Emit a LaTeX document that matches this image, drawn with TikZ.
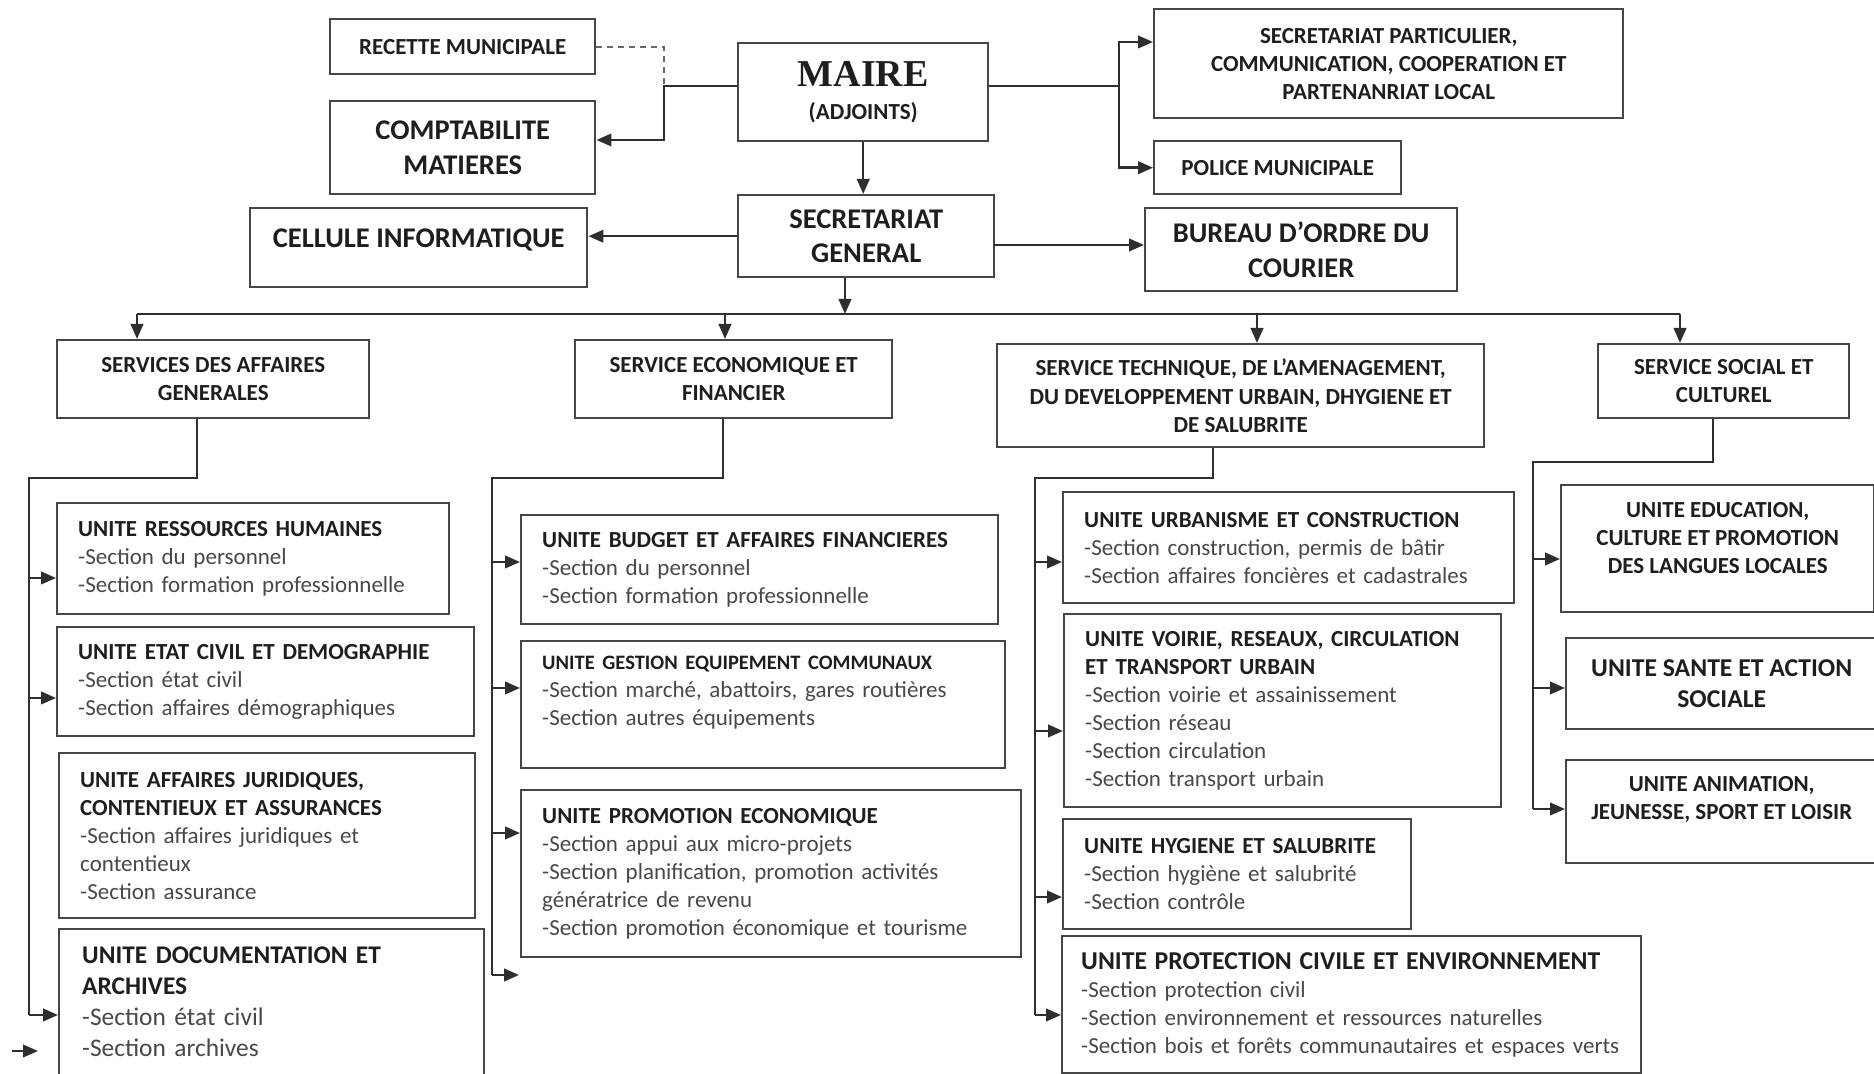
\documentclass[tikz,border=0pt]{standalone}
\usepackage{fontspec}
\setmainfont{Carlito}
\newfontfamily\mairefont{Liberation Serif}
\usetikzlibrary{arrows.meta,positioning}
\definecolor{ink}{RGB}{30,30,30}
\definecolor{soft}{RGB}{72,72,72}
\definecolor{edge}{RGB}{70,70,70}
\newcommand{\sect}[1]{{\color{soft}#1}}
\newcommand{\fs}[1]{\fontsize{#1}{1.22\dimexpr#1\relax}\selectfont}

\begin{document}
\begin{tikzpicture}[x=0.1mm, y=-0.1mm,
  box/.style={draw=edge, line width=0.7pt, inner sep=0pt, align=center, anchor=north west, text=ink, font=\fs{2.3mm}\bfseries},
  bigbox/.style={box, font=\fs{2.85mm}\bfseries},
  unit/.style={draw=edge, line width=0.7pt, inner xsep=2.1mm, inner ysep=0pt, align=left, anchor=north west, text=ink, font=\fs{2.3mm}},
  wire/.style={draw=black!82, line width=0.7pt},
  arr/.style={wire, -{Triangle[length=1.5mm, width=1.25mm]}},
  dashline/.style={draw=black!60, line width=0.6pt, dash pattern=on 0.6mm off 0.5mm}]
\useasboundingbox (0,0) rectangle (1874,1074);
\node[box, minimum width=26.5mm, minimum height=5.5mm] (recette) at (329,18) {RECETTE MUNICIPALE};
\node[bigbox, minimum width=26.5mm, minimum height=9.3mm] (compta) at (329,100) {COMPTABILITE\\MATIERES};
\node[box, minimum width=25mm, minimum height=9.8mm] (maire) at (737,42) {{\mairefont\bfseries\fontsize{3.8mm}{4mm}\selectfont MAIRE}\\[0.4mm](ADJOINTS)};
\node[box, minimum width=46.9mm, minimum height=10.9mm] (secpart) at (1153,8) {SECRETARIAT PARTICULIER,\\COMMUNICATION, COOPERATION ET\\PARTENANRIAT LOCAL};
\node[box, minimum width=24.7mm, minimum height=5.3mm] (police) at (1153,140) {POLICE MUNICIPALE};
\node[bigbox, minimum width=25.6mm, minimum height=8.2mm] (sg) at (737,194) {SECRETARIAT\\GENERAL};
\node[bigbox, minimum width=33.7mm, minimum height=7.9mm, text depth=1.9mm] (cellule) at (249,207) {CELLULE INFORMATIQUE};
\node[bigbox, minimum width=31.2mm, minimum height=8.3mm] (bureau) at (1144,207) {BUREAU D’ORDRE DU\\COURIER};

\node[box, minimum width=31.2mm, minimum height=7.8mm] (sag) at (56,339) {SERVICES DES AFFAIRES\\GENERALES};
\node[box, minimum width=31.7mm, minimum height=7.8mm] (sef) at (574,339) {SERVICE ECONOMIQUE ET\\FINANCIER};
\node[box, minimum width=48.7mm, minimum height=10.3mm] (ste) at (996,343) {SERVICE TECHNIQUE, DE L’AMENAGEMENT,\\DU DEVELOPPEMENT URBAIN, DHYGIENE ET\\DE SALUBRITE};
\node[box, minimum width=25.1mm, minimum height=7.4mm] (ssc) at (1597,343) {SERVICE SOCIAL ET\\CULTUREL};

\node[unit, minimum width=39.2mm, minimum height=11.1mm, text width=35mm] (urh) at (56,502) {\textbf{UNITE RESSOURCES HUMAINES}\\\sect{-Section du personnel}\\\sect{-Section formation professionnelle}};
\node[unit, minimum width=41.7mm, minimum height=10.9mm, text width=37.5mm] (uecd) at (56,626) {\textbf{UNITE ETAT CIVIL ET DEMOGRAPHIE}\\\sect{-Section état civil}\\\sect{-Section affaires démographiques}};
\node[unit, minimum width=41.6mm, minimum height=16.5mm, text width=37.4mm] (uajc) at (58,752) {\textbf{UNITE AFFAIRES JURIDIQUES,}\\\textbf{CONTENTIEUX ET ASSURANCES}\\\sect{-Section affaires juridiques et}\\\sect{contentieux}\\\sect{-Section assurance}};
\node[unit, minimum width=42.5mm, minimum height=15.7mm, text width=37.9mm, inner xsep=2.3mm, font=\fs{2.54mm}] (uda) at (58,928) {\textbf{UNITE DOCUMENTATION ET}\\\textbf{ARCHIVES}\\\sect{-Section état civil}\\\sect{-Section archives}\\[-1.9mm]\mbox{}};

\node[unit, minimum width=47.7mm, minimum height=10.9mm, text width=43.5mm] (ubaf) at (520,514) {\textbf{UNITE BUDGET ET AFFAIRES FINANCIERES}\\\sect{-Section du personnel}\\\sect{-Section formation professionnelle}};
\node[unit, minimum width=48.4mm, minimum height=12.7mm, text width=44.2mm] (ugec) at (520,640) {{\fontsize{2.05mm}{2.8mm}\selectfont\bfseries UNITE GESTION EQUIPEMENT COMMUNAUX}\\\sect{-Section marché, abattoirs, gares routières}\\\sect{-Section autres équipements}\\\mbox{}};
\node[unit, minimum width=50mm, minimum height=16.7mm, text width=45.8mm] (upe) at (520,789) {\textbf{UNITE PROMOTION ECONOMIQUE}\\\sect{-Section appui aux micro-projets}\\\sect{-Section planification, promotion activités}\\\sect{génératrice de revenu}\\\sect{-Section promotion économique et tourisme}};

\node[unit, minimum width=45.1mm, minimum height=11.1mm, text width=40.9mm] (uuc) at (1062,491) {\textbf{UNITE URBANISME ET CONSTRUCTION}\\\sect{-Section construction, permis de bâtir}\\\sect{-Section affaires foncières et cadastrales}};
\node[unit, minimum width=43.7mm, minimum height=19.3mm, text width=39.5mm] (uvr) at (1063,613) {\textbf{UNITE VOIRIE, RESEAUX, CIRCULATION}\\\textbf{ET TRANSPORT URBAIN}\\\sect{-Section voirie et assainissement}\\\sect{-Section réseau}\\\sect{-Section circulation}\\\sect{-Section transport urbain}};
\node[unit, minimum width=34.8mm, minimum height=11mm, text width=30.6mm] (uhs) at (1062,818) {\textbf{UNITE HYGIENE ET SALUBRITE}\\\sect{-Section hygiène et salubrité}\\\sect{-Section contrôle}};
\node[unit, minimum width=57.9mm, minimum height=13.7mm, text width=54.1mm, inner xsep=1.9mm] (upce) at (1061,935) {{\fontsize{2.57mm}{3.2mm}\selectfont\bfseries UNITE PROTECTION CIVILE ET ENVIRONNEMENT}\\\sect{-Section protection civil}\\\sect{-Section environnement et ressources naturelles}\\\sect{-Section bois et forêts communautaires et espaces verts}};

\node[box, minimum width=31.3mm, minimum height=12.7mm, text depth=2.1mm] (uecp) at (1560,484) {UNITE EDUCATION,\\CULTURE ET PROMOTION\\DES LANGUES LOCALES};
\node[box, minimum width=31.1mm, minimum height=9.1mm, font=\fs{2.57mm}\bfseries] (usas) at (1565,637) {UNITE SANTE ET ACTION\\SOCIALE};
\node[box, minimum width=31.1mm, minimum height=10.3mm, text depth=2.8mm] (uajs) at (1565,759) {UNITE ANIMATION,\\JEUNESSE, SPORT ET LOISIR};

\coordinate (ml) at (664,86);
\coordinate (mlb) at (664,140);
\coordinate (mr) at (1119,86);
\coordinate (mrt) at (1119,42);
\coordinate (sgb) at (994,245);
\draw[dashline] (recette.east) -| (ml);
\draw[arr] (maire.west |- ml) -- (ml) -- (mlb) -- (mlb -| compta.east);
\draw[arr] (maire.east |- mr) -- (mr) |- (mrt -| secpart.west);
\draw[arr] (mr) |- (police.west);
\draw[arr] (maire.south) -- (maire.south |- sg.north);
\draw[arr] (sg.west) -- (sg.west -| cellule.east);
\draw[arr] (sgb) -- (sgb -| bureau.west);

\coordinate (bus) at (845,314);
\coordinate (b1) at (137,314); \coordinate (b2) at (725,314);
\coordinate (b3) at (1257,314); \coordinate (b4) at (1680,314);
\draw[arr] (sg.south -| bus) -- (bus);
\draw[wire] (b1) -- (b4);
\draw[arr] (b1) -- (b1 |- sag.north);
\draw[arr] (b2) -- (b2 |- sef.north);
\draw[arr] (b3) -- (b3 |- ste.north);
\draw[arr] (b4) -- (b4 |- ssc.north);

\coordinate (agd) at (197,478); \coordinate (agr) at (29,478); \coordinate (agb) at (29,1015);
\draw[wire] (sag.south -| agd) -- (agd) -- (agr) -- (agb);
\foreach \y/\n in {578/urh, 698/uecd, 1015/uda}
  {\coordinate (t\n) at (29,\y); \draw[arr] (t\n) -- (t\n -| \n.west);}
\coordinate (lost1) at (12,1051); \coordinate (lost2) at (38,1051);
\draw[arr] (lost1) -- (lost2);

\coordinate (efd) at (723,478); \coordinate (efr) at (492,478); \coordinate (efb) at (492,975);
\coordinate (efend) at (519,975);
\draw[wire] (sef.south -| efd) -- (efd) -- (efr) -- (efb);
\foreach \y/\n in {562/ubaf, 688/ugec, 833/upe}
  {\coordinate (t\n) at (492,\y); \draw[arr] (t\n) -- (t\n -| \n.west);}
\draw[arr] (efb) -- (efend);

\coordinate (tcd) at (1213,478); \coordinate (tcr) at (1035,478); \coordinate (tcb) at (1035,1015);
\draw[wire] (ste.south -| tcd) -- (tcd) -- (tcr) -- (tcb);
\foreach \y/\n in {562/uuc, 731/uvr, 897/uhs, 1015/upce}
  {\coordinate (t\n) at (1035,\y); \draw[arr] (t\n) -- (t\n -| \n.west);}

\coordinate (scd) at (1713,462); \coordinate (scr) at (1533,462); \coordinate (scb) at (1533,809);
\draw[wire] (ssc.south -| scd) -- (scd) -- (scr) -- (scb);
\foreach \y/\n in {559/uecp, 688/usas, 809/uajs}
  {\coordinate (t\n) at (1533,\y); \draw[arr] (t\n) -- (t\n -| \n.west);}
\end{tikzpicture}
\end{document}
